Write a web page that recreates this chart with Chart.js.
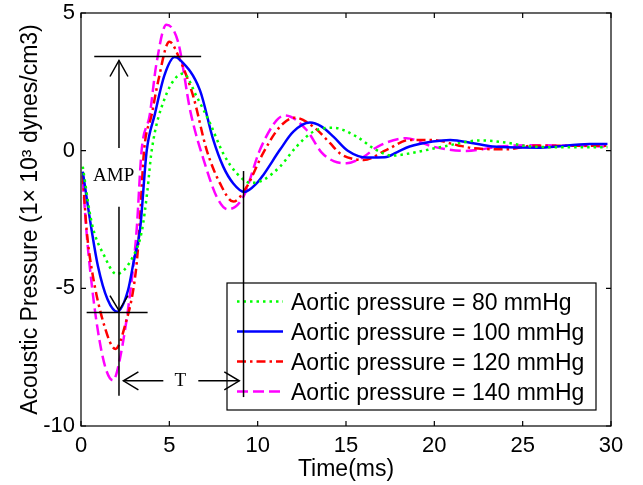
<!DOCTYPE html>
<html>
<head>
<meta charset="utf-8">
<script src="https://cdn.jsdelivr.net/npm/chart.js@4.4.1/dist/chart.umd.min.js"></script>
<style>
  body { margin: 0; background: #fff; }
</style>
</head>
<body>
<canvas id="pressure-chart" width="643" height="485"></canvas>
<script>
// time (ms) / acoustic pressure (x10^3 dynes/cm3)
const time80 = [0.1, 0.6, 1.34, 2.0, 2.94, 3.45, 3.75, 4.0, 4.74, 5.8, 6.55, 7.3, 8.05, 8.81, 9.6, 10.3, 11.26, 12.2, 13.15, 14.3, 15.6, 16.7, 17.6, 18.6, 20.5, 22.6, 24.1, 25.2, 27.5, 29.8];
const pres80 = [-0.58, -2.6, -3.85, -4.48, -3.85, -2.9, -1.5, 0.0, 1.9, 2.8, 1.96, 1.0, -0.1, -0.82, -1.17, -1.07, -0.58, 0.15, 0.69, 0.83, 0.51, 0.03, -0.18, -0.1, 0.15, 0.37, 0.29, 0.17, 0.12, 0.12];

const time100 = [0.1, 0.6, 0.96, 1.5, 2.05, 2.66, 3.0, 3.34, 3.72, 4.17, 4.73, 5.3, 5.6, 6.73, 7.49, 8.05, 8.62, 9.25, 9.94, 10.32, 11.26, 12.02, 12.96, 13.6, 14.3, 15.1, 16.2, 17.2, 17.9, 18.6, 19.9, 20.9, 22.2, 23.3, 26.0, 28.8, 29.8];
const pres100 = [-0.76, -2.88, -4.2, -5.4, -5.85, -5.07, -3.97, -2.88, 0.0, 1.3, 2.75, 3.4, 3.3, 2.2, 0.39, -0.58, -1.19, -1.5, -1.19, -0.88, 0.03, 0.69, 1.02, 0.88, 0.5, 0.0, -0.25, -0.24, -0.05, 0.15, 0.33, 0.39, 0.27, 0.15, 0.11, 0.24, 0.24];

const time120 = [0.1, 0.32, 0.58, 1.34, 1.95, 2.47, 3.1, 3.3, 3.57, 4.0, 4.36, 5.0, 5.6, 6.36, 7.11, 7.87, 8.62, 9.38, 10.3, 11.26, 12.1, 13.15, 14.1, 14.66, 15.4, 16.0, 17.3, 18.6, 19.9, 21.3, 22.2, 24.1, 25.6, 27.5, 29.8];
const pres120 = [-0.9, -2.88, -4.2, -6.4, -7.2, -6.4, -4.4, -2.9, 0.0, 1.3, 2.5, 3.96, 3.3, 1.96, 0.03, -1.19, -1.85, -1.31, -0.1, 0.87, 1.2, 0.87, 0.27, -0.1, -0.3, -0.34, 0.03, 0.39, 0.39, 0.2, 0.09, 0.05, 0.18, 0.18, 0.18];

const time140 = [0.1, 0.4, 1.15, 1.81, 2.19, 2.85, 3.15, 3.43, 3.89, 4.26, 4.83, 5.49, 6.2, 7.05, 7.7, 8.3, 9.19, 10.13, 11.07, 11.55, 12.77, 13.6, 14.3, 15.04, 16.0, 16.8, 18.4, 19.9, 21.8, 23.7, 25.6, 29.8];
const pres140 = [-1.1, -3.6, -7.25, -8.34, -7.6, -4.82, -2.88, 0.0, 1.3, 3.12, 4.57, 3.96, 1.4, -0.55, -1.7, -2.13, -1.67, 0.03, 1.1, 1.28, 0.75, -0.05, -0.38, -0.46, -0.22, 0.15, 0.45, 0.15, -0.01, 0.15, 0.2, 0.15];

const seriesLabels = ['Aortic pressure = 80 mmHg', 'Aortic pressure = 100 mmHg', 'Aortic pressure = 120 mmHg', 'Aortic pressure = 140 mmHg'];
const xTicks = [0, 5, 10, 15, 20, 25, 30];
const yTicks = [-10, -5, 0, 5];

// AMP / T markers, in data units
const ampX = 2.15;
const ampTop = 3.42, ampBottom = -5.88;
const ampTopSpan = [0.75, 6.8];
const ampBottomSpan = [0.32, 3.77];
const periodX = 9.2;
const periodSpan = [-0.74, -8.95];
const periodArrowY = -8.36;

const SANS = '"Liberation Sans", Arial, sans-serif';
const SERIF = '"Liberation Serif", "Times New Roman", serif';

function pts(t, p) {
  return t.map((v, i) => ({x: v, y: p[i]}));
}

function line(ctx, x1, y1, x2, y2) {
  ctx.beginPath();
  ctx.moveTo(x1, y1);
  ctx.lineTo(x2, y2);
  ctx.stroke();
}

// open arrow head with its tip at (tx,ty)
function head(ctx, tx, ty, dx, dy) {
  ctx.beginPath();
  if (dx === 0) {
    ctx.moveTo(tx - 9, ty + dy);
    ctx.lineTo(tx, ty);
    ctx.lineTo(tx + 9, ty + dy);
  } else {
    ctx.moveTo(tx + dx, ty - 9);
    ctx.lineTo(tx, ty);
    ctx.lineTo(tx + dx, ty + 9);
  }
  ctx.stroke();
}

const decorations = {
  id: 'decorations',
  afterDatasetsDraw(chart) {
    const {ctx, chartArea: a, scales: {x, y}} = chart;
    ctx.save();
    ctx.strokeStyle = '#000';
    ctx.lineWidth = 1.2;

    // axes box with inward ticks
    ctx.strokeRect(a.left, a.top, a.right - a.left, a.bottom - a.top);
    ctx.beginPath();
    xTicks.forEach(v => {
      const px = x.getPixelForValue(v);
      ctx.moveTo(px, a.bottom); ctx.lineTo(px, a.bottom - 5);
      ctx.moveTo(px, a.top); ctx.lineTo(px, a.top + 5);
    });
    yTicks.forEach(v => {
      const py = y.getPixelForValue(v);
      ctx.moveTo(a.left, py); ctx.lineTo(a.left + 5, py);
      ctx.moveTo(a.right, py); ctx.lineTo(a.right - 5, py);
    });
    ctx.stroke();

    // legend
    const bx = a.left + 146, by = a.top + 270, bw = 369, bh = 127;
    ctx.fillStyle = '#fff';
    ctx.fillRect(bx, by, bw, bh);
    ctx.strokeRect(bx, by, bw, bh);
    chart.data.datasets.forEach((ds, i) => {
      const ly = by + 18.5 + i * 30;
      ctx.save();
      ctx.strokeStyle = ds.borderColor;
      ctx.lineWidth = ds.borderWidth;
      ctx.setLineDash(ds.borderDash || []);
      line(ctx, bx + 10, ly, bx + 56, ly);
      ctx.restore();
      ctx.fillStyle = '#000';
      ctx.font = '23px ' + SANS;
      ctx.textBaseline = 'middle';
      ctx.textAlign = 'left';
      ctx.fillText(ds.label, bx + 64, ly + 2);
    });

    // AMP marker
    ctx.lineWidth = 1.5;
    const ax = x.getPixelForValue(ampX);
    const yTop = y.getPixelForValue(ampTop), yBot = y.getPixelForValue(ampBottom);
    line(ctx, x.getPixelForValue(ampTopSpan[0]), yTop, x.getPixelForValue(ampTopSpan[1]), yTop);
    line(ctx, x.getPixelForValue(ampBottomSpan[0]), yBot, x.getPixelForValue(ampBottomSpan[1]), yBot);
    line(ctx, ax, y.getPixelForValue(0.1), ax, yTop + 4);
    head(ctx, ax, yTop + 4, 0, 16);
    line(ctx, ax, y.getPixelForValue(-2.04), ax, y.getPixelForValue(-8.9));
    head(ctx, ax, yBot - 2, 0, -15);

    ctx.fillStyle = '#000';
    ctx.font = '19px ' + SERIF;
    ctx.textAlign = 'center';
    ctx.textBaseline = 'middle';
    ctx.fillText('AMP', x.getPixelForValue(1.85), y.getPixelForValue(-0.92));

    // T marker
    const px = x.getPixelForValue(periodX);
    line(ctx, px, y.getPixelForValue(periodSpan[0]), px, y.getPixelForValue(periodSpan[1]));
    const ty = y.getPixelForValue(periodArrowY);
    const tl = x.getPixelForValue(2.4), tr = x.getPixelForValue(8.96);
    line(ctx, tl, ty, x.getPixelForValue(4.66), ty);
    line(ctx, x.getPixelForValue(6.64), ty, tr, ty);
    head(ctx, tl, ty, 15, 0);
    head(ctx, tr, ty, -15, 0);
    ctx.fillText('T', x.getPixelForValue(5.62), ty);
    ctx.restore();
  }
};

new Chart(document.getElementById('pressure-chart'), {
  type: 'line',
  data: {
    datasets: [
      {label: seriesLabels[0], data: pts(time80, pres80), borderColor: '#00ff00', borderWidth: 2.5, borderDash: [2.5, 4]},
      {label: seriesLabels[1], data: pts(time100, pres100), borderColor: '#0000ff', borderWidth: 2.5},
      {label: seriesLabels[2], data: pts(time120, pres120), borderColor: '#ff0000', borderWidth: 2.5, borderDash: [9, 4, 2.5, 4]},
      {label: seriesLabels[3], data: pts(time140, pres140), borderColor: '#ff00ff', borderWidth: 2.5, borderDash: [11, 5]}
    ]
  },
  options: {
    responsive: false,
    animation: false,
    layout: {padding: {left: 0, top: 13, right: 32, bottom: 0}},
    elements: {
      point: {radius: 0},
      line: {cubicInterpolationMode: 'monotone', fill: false}
    },
    plugins: {legend: {display: false}, tooltip: {enabled: false}},
    scales: {
      x: {
        type: 'linear', min: 0, max: 30,
        afterFit: s => { s.height = 59; s.paddingLeft = 0; s.paddingRight = 0; },
        afterBuildTicks: s => { s.ticks = xTicks.map(v => ({value: v})); },
        grid: {display: false, drawTicks: false},
        border: {display: false},
        ticks: {color: '#000', padding: 7, font: {family: SANS, size: 22}},
        title: {display: true, text: 'Time(ms)', color: '#000', padding: {top: 0, bottom: 2}, font: {family: SANS, size: 23}}
      },
      y: {
        type: 'linear', min: -10, max: 5,
        afterFit: s => { s.width = 81; s.paddingTop = 0; s.paddingBottom = 0; },
        afterBuildTicks: s => { s.ticks = yTicks.map(v => ({value: v})); },
        grid: {display: false, drawTicks: false},
        border: {display: false},
        ticks: {color: '#000', padding: 6, font: {family: SANS, size: 22}},
        title: {display: true, text: 'Acoustic Pressure (1\u00d7 10\u00b3 dynes/cm3)', color: '#000', padding: {top: 17, bottom: 0}, font: {family: SANS, size: 23}}
      }
    }
  },
  plugins: [decorations]
});
</script>
</body>
</html>
